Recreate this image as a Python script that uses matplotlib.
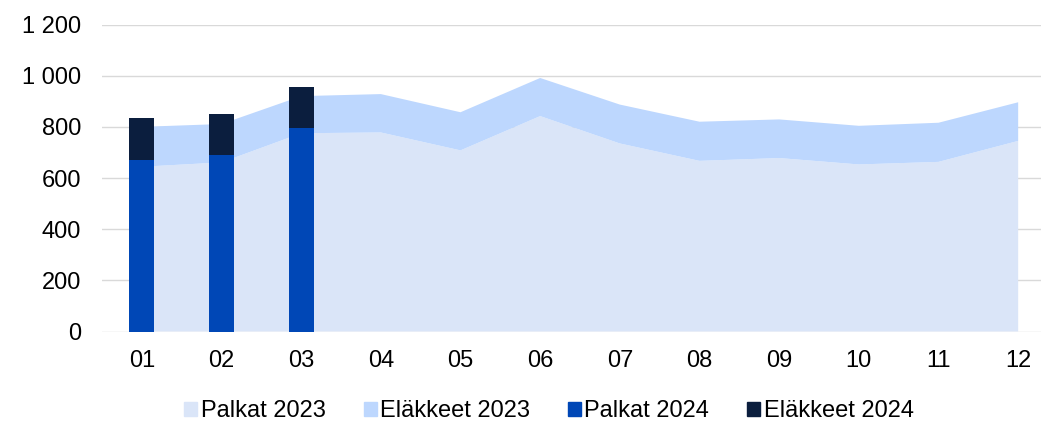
import numpy as np
import matplotlib
matplotlib.use("Agg")
import matplotlib.pyplot as plt
from matplotlib.ticker import FuncFormatter
from matplotlib.patches import Patch

plt.rcParams['font.family'] = ['Liberation Sans', 'DejaVu Sans']

months = ['01', '02', '03', '04', '05', '06', '07', '08', '09', '10', '11', '12']
palkat_2023 = [644, 661, 775, 778, 708, 842, 735, 667, 678, 653, 663, 745]
elakkeet_2023 = [156, 150, 145, 150, 149, 149, 152, 153, 151, 151, 153, 151]
palkat_2024 = [672, 688, 794]
elakkeet_2024 = [163, 163, 161]

c_p23 = '#DAE5F8'
c_e23 = '#BDD7FE'
c_p24 = '#0047B6'
c_e24 = '#0B1E3E'

fig = plt.figure(figsize=(10.41, 4.21), dpi=100)
ax = fig.add_axes([102 / 1041, 89.5 / 421, 956 / 1041, 307 / 421])

x = np.arange(len(months))
ax.stackplot(x, palkat_2023, elakkeet_2023, colors=[c_p23, c_e23], zorder=1)

x24 = np.arange(len(palkat_2024))
ax.bar(x24, palkat_2024, width=0.315, color=c_p24, zorder=3)
ax.bar(x24, elakkeet_2024, width=0.315, bottom=palkat_2024, color=c_e24, zorder=3)

ax.set_xlim(-0.5, 11.5)
ax.set_ylim(0, 1200)
ax.set_yticks(range(0, 1201, 200))
ax.yaxis.set_major_formatter(FuncFormatter(lambda v, p: f'{int(v):,}'.replace(',', ' ')))
ax.set_xticks(x)
ax.set_xticklabels(months)

ax.grid(axis='y', color='#D9D9D9', linewidth=1.0, zorder=0)
ax.set_axisbelow(True)
for s in ax.spines.values():
    s.set_visible(False)
ax.tick_params(axis='both', length=0, labelsize=17, colors='black')
ax.tick_params(axis='y', pad=15)
ax.tick_params(axis='x', pad=13)

handles = [Patch(color=c_p23, label='Palkat 2023'),
           Patch(color=c_e23, label='Eläkkeet 2023'),
           Patch(color=c_p24, label='Palkat 2024'),
           Patch(color=c_e24, label='Eläkkeet 2024')]
fig.legend(handles=handles, loc='center', bbox_to_anchor=(549 / 1041, 1 - 411 / 421),
           ncol=4, frameon=False, fontsize=17, handlelength=0.55, handleheight=0.55,
           handletextpad=0.15, columnspacing=1.6)

fig.savefig('out.png', dpi=100)
